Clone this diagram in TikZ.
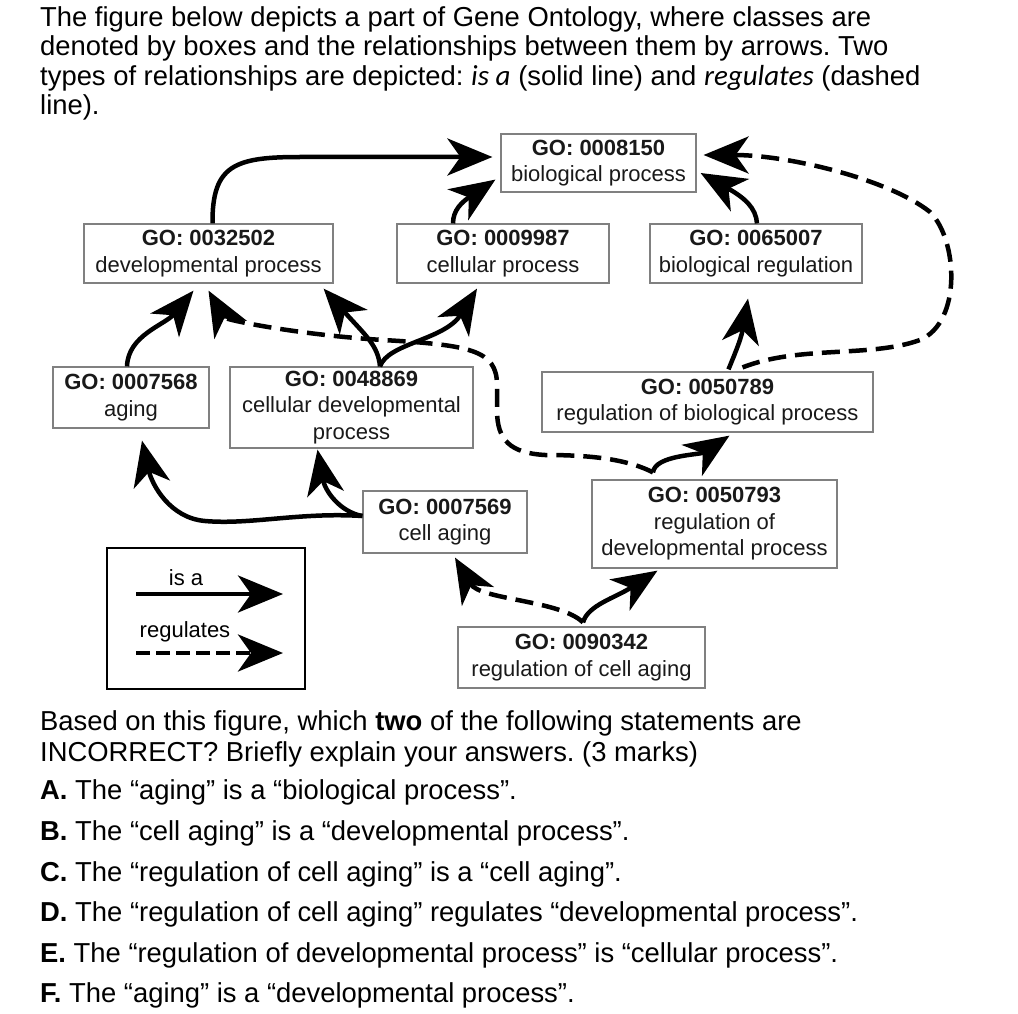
\documentclass[tikz,border=0pt]{standalone}
\usepackage{fontspec}
\setmainfont{Liberation Sans}
\newfontfamily\carlito{Carlito}
\usetikzlibrary{arrows.meta,positioning}
\frenchspacing

\begin{document}
\begin{tikzpicture}[x=1pt, y=-1pt,
    goclass/.style={draw=black!50, line width=1.2pt, align=center, inner sep=0pt, text=black!90, font=\fontsize{22}{26.5}\selectfont},
    isa/.style={line width=4.5pt, -{Stealth[length=45pt, width=37pt, inset=13pt]}},
    regulates/.style={isa, dash pattern=on 18pt off 9pt},
    textline/.style={anchor=base west, inner sep=0pt, font=\fontsize{27.4}{30}\selectfont},
    legendtext/.style={anchor=base, inner sep=0pt, font=\fontsize{22}{26}\selectfont}]
    \useasboundingbox (0,0) rectangle (1018,1014);
    % Question text
    \node[textline] (intro1) at (40,26.5) {The figure below depicts a part of Gene Ontology, where classes are};
    \node[textline] (intro2) at (40,56) {denoted by boxes and the relationships between them by arrows. Two};
    \node[textline] (intro3) at (40,85.5) {types of relationships are depicted: {\carlito\itshape\fontsize{29}{30}\selectfont is a} (solid line) and {\carlito\itshape\fontsize{29}{30}\selectfont regulates} (dashed};
    \node[textline] (intro4) at (40,115) {line).};
    % GO classes
    \node[goclass, minimum width=195pt, minimum height=58pt] (bioproc) at (598.5,163) {\textbf{GO: 0008150}\\biological process};
    \node[goclass, minimum width=249pt, minimum height=59pt] (devproc) at (208.5,253.5) {\textbf{GO: 0032502}\\developmental process};
    \node[goclass, minimum width=212pt, minimum height=59pt] (cellproc) at (503,253.5) {\textbf{GO: 0009987}\\cellular process};
    \node[goclass, minimum width=212pt, minimum height=59pt] (bioreg) at (756,253.5) {\textbf{GO: 0065007}\\biological regulation};
    \node[goclass, minimum width=156pt, minimum height=61pt] (aging) at (131,397.5) {\textbf{GO: 0007568}\\aging};
    \node[goclass, minimum width=243pt, minimum height=81pt] (celldev) at (351.5,407.5) {\textbf{GO: 0048869}\\cellular developmental\\process};
    \node[goclass, minimum width=331pt, minimum height=60pt] (regbio) at (707.5,402) {\textbf{GO: 0050789}\\regulation of biological process};
    \node[goclass, minimum width=164pt, minimum height=62pt] (cellaging) at (445,522) {\textbf{GO: 0007569}\\cell aging};
    \node[goclass, minimum width=245pt, minimum height=88pt] (regdev) at (714.5,524) {\textbf{GO: 0050793}\\regulation of\\developmental process};
    \node[goclass, minimum width=247pt, minimum height=61pt] (regaging) at (581.5,657.5) {\textbf{GO: 0090342}\\regulation of cell aging};
    % is a arrows
    \draw[isa] ([xshift=4pt]devproc.north) .. controls (212,165) and (235,157) .. (300,157) -- ([shift={(-8pt,6pt)}]bioproc.west);
    \draw[isa] ([xshift=-50pt]cellproc.north) .. controls (453,210) and (462,202) .. ([shift={(-5pt,13pt)}]bioproc.south west);
    \draw[isa] ([xshift=1pt]bioreg.north) .. controls (756,208) and (745,198) .. ([shift={(4pt,-10pt)}]bioproc.east);
    \draw[isa] ([xshift=21pt,yshift=2pt]regbio.north) .. controls (733,358) and (741,340) .. ([shift={(-8pt,-15pt)}]bioreg.south);
    \draw[isa] ([xshift=-4pt]aging.north) .. controls (128,335) and (165,325) .. ([shift={(-15pt,-7pt)}]devproc.south);
    \draw[isa] ([xshift=28.5pt]celldev.north) .. controls (378,345) and (365,335) .. ([shift={(-10pt,-5pt)}]devproc.south east);
    \draw[isa] ([xshift=28.5pt]celldev.north) .. controls (388,343) and (445,340) .. ([shift={(-26pt,-5pt)}]cellproc.south);
    \draw[isa] ([shift={(-61.5pt,7pt)}]regdev.north) .. controls (655,455) and (700,455) .. ([shift={(22pt,-3pt)}]regbio.south);
    \draw[isa] ([yshift=6pt]cellaging.west) .. controls (300,512) and (250,525) .. (205,521) .. controls (170,518) and (152,485) .. ([shift={(11pt,-12pt)}]aging.south);
    \draw[isa] ([yshift=6pt]cellaging.west) .. controls (340,512) and (325,491) .. ([shift={(-34pt,-1pt)}]celldev.south);
    \draw[isa] ([shift={(1.5pt,4pt)}]regaging.north) .. controls (588,605) and (615,598) .. ([shift={(-57pt,-2pt)}]regdev.south);
    % regulates arrows
    \draw[regulates] ([xshift=35pt,yshift=4pt]regbio.north) .. controls (800,345) and (870,358) .. (920,340) .. controls (962,322) and (958,240) .. (930,212) .. controls (890,180) and (790,155) .. ([shift={(7pt,8pt)}]bioproc.east);
    \draw[regulates] ([shift={(-61.5pt,7pt)}]regdev.north) .. controls (625,458) and (585,455) .. (545,455) .. controls (510,453) and (497,440) .. (497,410) -- (497,385) .. controls (497,350) and (470,345) .. (383,340) .. controls (300,335) and (225,320) .. ([yshift=-7pt]devproc.south);
    \draw[regulates] ([shift={(1.5pt,4pt)}]regaging.north) .. controls (560,600) and (480,600) .. ([shift={(10pt,-4pt)}]cellaging.south);
    % Legend
    \node[draw, line width=1.3pt, minimum width=198pt, minimum height=141pt, inner sep=0pt] (legend) at (206,618.5) {};
    \node[legendtext] (isalabel) at (186,585) {is a};
    \node[legendtext] (reglabel) at (185,637) {regulates};
    \coordinate (isastart) at (136,594);
    \coordinate (isaend) at (283,594);
    \coordinate (regstart) at (136,653);
    \coordinate (regend) at (283,653);
    \draw[isa] (isastart) -- (isaend);
    \draw[regulates, dash pattern=on 14pt off 6pt] (regstart) -- (regend);
    % Statements
    \node[textline] (ask1) at (40,730) {Based on this figure, which \textbf{two} of the following statements are};
    \node[textline] (ask2) at (40,761) {INCORRECT? Briefly explain your answers. (3 marks)};
    \node[textline] (optA) at (40,799) {\textbf{A.} The “aging” is a “biological process”.};
    \node[textline] (optB) at (40,840) {\textbf{B.} The “cell aging” is a “developmental process”.};
    \node[textline] (optC) at (40,881) {\textbf{C.} The “regulation of cell aging” is a “cell aging”.};
    \node[textline] (optD) at (40,921) {\textbf{D.} The “regulation of cell aging” regulates “developmental process”.};
    \node[textline] (optE) at (40,962) {\textbf{E.} The “regulation of developmental process” is “cellular process”.};
    \node[textline] (optF) at (40,1002) {\textbf{F.} The “aging” is a “developmental process”.};
\end{tikzpicture}
\end{document}
